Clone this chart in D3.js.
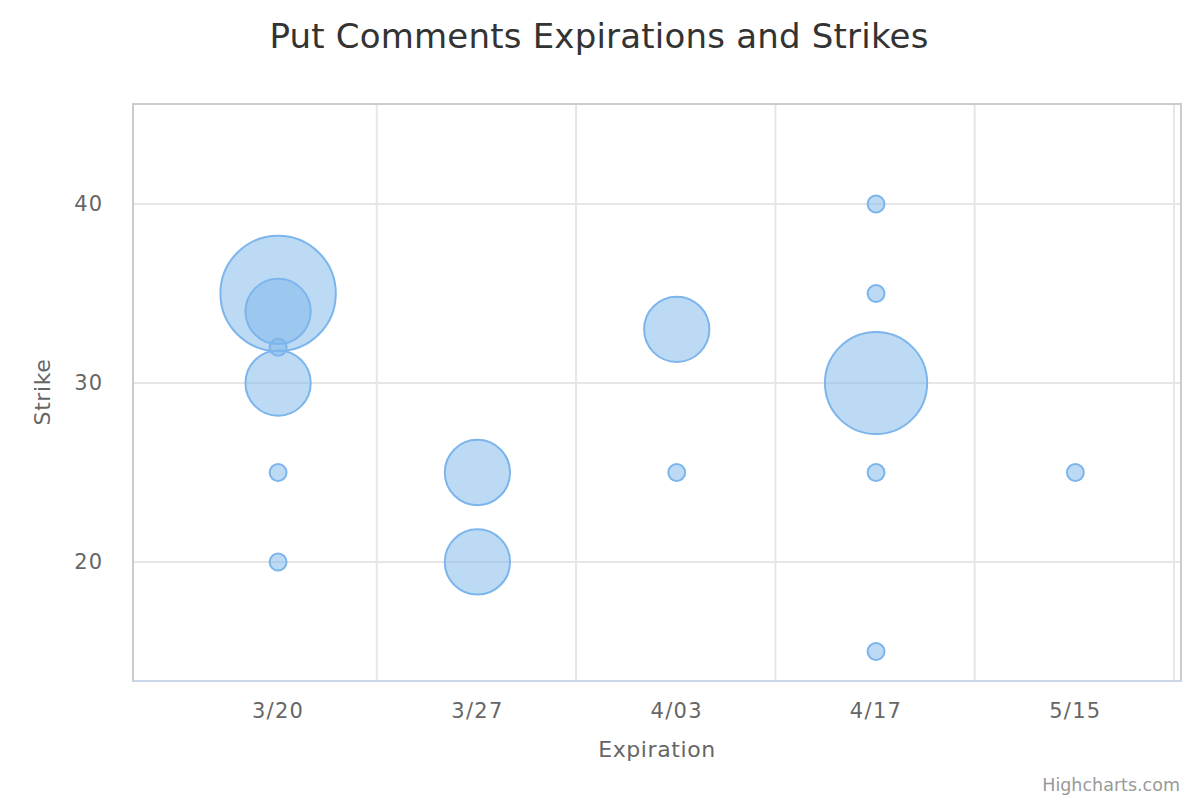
<!DOCTYPE html>
<html>
<head>
<meta charset="utf-8">
<script src="https://cdn.jsdelivr.net/npm/d3@7"></script>
<style>
  html, body { margin: 0; padding: 0; background: #fff; }
  svg { display: block; font-family: "DejaVu Sans", Verdana, sans-serif; }
</style>
</head>
<body>
<svg id="chart" width="1200" height="800"></svg>
<script>
// ---- data ----
const categories = ["3/20", "3/27", "4/03", "4/17", "5/15"];
const pointCategory = [0, 0, 0, 0, 0, 0, 1, 1, 2, 2, 3, 3, 3, 3, 3, 4];
const pointStrike   = [35, 34, 32, 30, 25, 20, 25, 20, 33, 25, 40, 35, 30, 25, 15, 25];
const pointSize     = [60, 19, 1, 19, 1, 1, 19, 19, 19, 1, 1, 1, 47, 1, 1, 1];
const yTicks = [20, 30, 40];
const titleText = "Put Comments Expirations and Strikes";
const xTitle = "Expiration";
const yTitle = "Strike";

// ---- layout ----
const svg = d3.select("#chart");
const plot = { left: 133, top: 104, right: 1181, bottom: 681 };

const x = d3.scaleLinear().domain([-0.728, 4.53]).range([plot.left, plot.right]);
const y = d3.scaleLinear().domain([13.35, 45.59]).range([plot.bottom, plot.top]);

const rMin = 4, rMax = (plot.bottom - plot.top) * 0.2 / 2;
const zMax = d3.max(pointSize);
const r = z => Math.sqrt(rMin * rMin + (z / zMax) * (rMax * rMax - rMin * rMin));

// title
svg.append("text").attr("x", 599).attr("y", 48).attr("text-anchor", "middle")
  .attr("fill", "#333333").style("font-size", "34px").style("letter-spacing", "0.2px").text(titleText);

// grid
const g = svg.append("g");
g.selectAll("line.ygrid").data(yTicks).enter().append("line")
  .attr("x1", plot.left).attr("x2", plot.right)
  .attr("y1", d => y(d)).attr("y2", d => y(d))
  .attr("stroke", "#e6e6e6").attr("stroke-width", 2);
g.selectAll("line.xgrid").data(categories.map((c, i) => i + 0.5)).enter().append("line")
  .attr("x1", d => x(d) - 1).attr("x2", d => x(d) - 1)
  .attr("y1", plot.top).attr("y2", plot.bottom)
  .attr("stroke", "#e6e6e6").attr("stroke-width", 2);

// plot border
svg.append("rect").attr("x", plot.left).attr("y", plot.top)
  .attr("width", plot.right - plot.left).attr("height", plot.bottom - plot.top)
  .attr("fill", "none").attr("stroke", "#cccccc").attr("stroke-width", 2);
svg.append("line").attr("x1", plot.left).attr("x2", plot.right)
  .attr("y1", plot.bottom).attr("y2", plot.bottom)
  .attr("stroke", "#ccd6eb").attr("stroke-width", 2);

// bubbles
const idx = d3.range(pointStrike.length).sort((a, b) => pointSize[b] - pointSize[a]);
svg.append("g").selectAll("circle").data(idx).enter().append("circle")
  .attr("cx", i => x(pointCategory[i]))
  .attr("cy", i => y(pointStrike[i]))
  .attr("r", i => r(pointSize[i]))
  .attr("fill", "rgba(124,181,236,0.5)")
  .attr("stroke", "#7cb5ec").attr("stroke-width", 2);

// x labels
svg.append("g").selectAll("text").data(categories).enter().append("text")
  .attr("x", (d, i) => x(i)).attr("y", 718).attr("text-anchor", "middle")
  .attr("fill", "#666666").style("font-size", "21px").style("letter-spacing", "1.3px").text(d => d);

// y labels
svg.append("g").selectAll("text").data(yTicks).enter().append("text")
  .attr("x", 103).attr("y", d => y(d) + 7).attr("text-anchor", "end")
  .attr("fill", "#666666").style("font-size", "21px").style("letter-spacing", "1px").text(d => d);

// axis titles
svg.append("text").attr("x", 657).attr("y", 757).attr("text-anchor", "middle")
  .attr("fill", "#666666").style("font-size", "22px").style("letter-spacing", "0.6px").text(xTitle);
svg.append("text").attr("transform", "translate(50,392) rotate(-90)")
  .attr("text-anchor", "middle").attr("fill", "#666666").style("font-size", "22px")
  .style("letter-spacing", "0.6px").text(yTitle);

// credits
svg.append("text").attr("x", 1180).attr("y", 791).attr("text-anchor", "end")
  .attr("fill", "#999999").style("font-size", "17.5px").text("Highcharts.com");
</script>
</body>
</html>
